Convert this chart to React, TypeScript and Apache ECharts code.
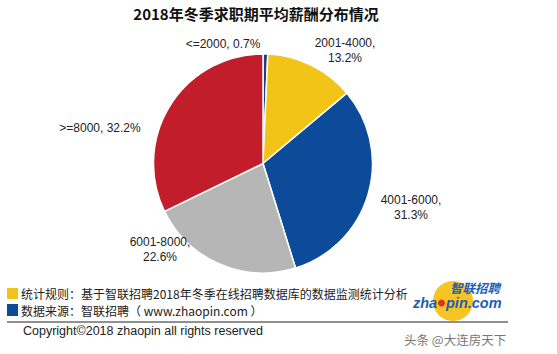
import React, { useEffect, useRef } from "react";
import * as echarts from "echarts";

const categories = ["<=2000", "2001-4000", "4001-6000", "6001-8000", ">=8000"];
const values = [0.7, 13.2, 31.3, 22.6, 32.2];
const sliceColors = ["#1D3F85", "#F2C418", "#0C4A9A", "#B6B6B6", "#C21D2A"];
const twoLine = [false, true, true, true, false];
const labelPos: [number, number][] = [
  [223, 44],
  [345, 50],
  [411, 207],
  [160, 249],
  [100, 128],
];

const titleText = "2018年冬季求职期平均薪酬分布情况";
const note1 = "统计规则：基于智联招聘2018年冬季在线招聘数据库的数据监测统计分析";
const note2 = "数据来源：智联招聘（ www.zhaopin.com ）";
const copyright = "Copyright©2018 zhaopin all rights reserved";
const watermark = "头条 @大连房天下";

const CJK = '"Noto Sans CJK SC", "Noto Sans", sans-serif';
const LAT = '"Liberation Sans", Arial, sans-serif';

export default function App() {
  const ref = useRef<HTMLDivElement>(null);
  useEffect(() => {
    document.body.style.margin = "0";
    const chart = echarts.init(ref.current!, null, { renderer: "svg" });
    chart.setOption({
      animation: false,
      backgroundColor: "#ffffff",
      series: [
        {
          type: "pie",
          center: [263, 163.5],
          radius: [0, 109.5],
          startAngle: 90,
          clockwise: true,
          itemStyle: { borderColor: "#ffffff", borderWidth: 1.5 },
          labelLine: { show: false },
          label: {
            show: true,
            position: "outside",
            color: "#222",
            fontFamily: LAT,
            fontSize: 12,
            lineHeight: 15,
            align: "center",
            formatter: (p: any) =>
              p.name + "," + (twoLine[p.dataIndex] ? "\n" : " ") + p.value + "%",
          },
          labelLayout: (params: any) => ({
            x: labelPos[params.dataIndex][0],
            y: labelPos[params.dataIndex][1],
            align: "center",
            verticalAlign: "middle",
          }),
          data: categories.map((c, i) => ({
            name: c,
            value: values[i],
            itemStyle: { color: sliceColors[i] },
          })),
        },
      ],
      graphic: [
        {
          type: "text",
          x: 256,
          y: 13,
          style: {
            text: titleText,
            fontFamily: CJK,
            fontSize: 15,
            fontWeight: "bold",
            fill: "#111",
            textAlign: "center",
            textVerticalAlign: "middle",
          },
        },
        { type: "rect", shape: { x: 7, y: 288, width: 11, height: 11 }, style: { fill: "#F2C418" } },
        { type: "rect", shape: { x: 7, y: 304, width: 11, height: 12 }, style: { fill: "#0C4A9A" } },
        {
          type: "text",
          x: 21,
          y: 293,
          style: { text: note1, fontFamily: CJK, fontSize: 12, fill: "#222", textVerticalAlign: "middle" },
        },
        {
          type: "text",
          x: 21,
          y: 310,
          style: { text: note2, fontFamily: CJK, fontSize: 12, fill: "#222", textVerticalAlign: "middle" },
        },
        {
          type: "line",
          shape: { x1: 7, y1: 322, x2: 508, y2: 322 },
          style: { stroke: "#222", lineWidth: 1 },
        },
        {
          type: "text",
          x: 23,
          y: 331,
          style: {
            text: copyright,
            fontFamily: LAT,
            fontSize: 12.5,
            fill: "#222",
            textVerticalAlign: "middle",
          },
        },
        {
          type: "text",
          x: 404,
          y: 339,
          style: { text: watermark, fontFamily: CJK, fontSize: 12.5, fill: "#777", textVerticalAlign: "middle" },
        },
        { type: "circle", shape: { cx: 453, cy: 301, r: 20 }, style: { fill: "#F7C521" } },
        { type: "circle", shape: { cx: 441.5, cy: 303, r: 3.5 }, style: { fill: "#E0301E" } },
        {
          type: "text",
          x: 450,
          y: 287,
          style: {
            text: "智联招聘",
            fontFamily: CJK,
            fontSize: 12.5,
            lineHeight: 12.5,
            fontWeight: "bold",
            fontStyle: "italic",
            fill: "#1E5FB5",
            textVerticalAlign: "middle",
          },
        },
        {
          type: "text",
          x: 413,
          y: 303,
          style: {
            text: "zha",
            fontFamily: LAT,
            fontSize: 14.5,
            lineHeight: 13,
            fontWeight: "bold",
            fontStyle: "italic",
            fill: "#1E5FB5",
            textVerticalAlign: "middle",
          },
        },
        {
          type: "text",
          x: 446,
          y: 303,
          style: {
            text: "pin.com",
            fontFamily: LAT,
            fontSize: 14.5,
            lineHeight: 13,
            fontWeight: "bold",
            fontStyle: "italic",
            fill: "#1E5FB5",
            textVerticalAlign: "middle",
          },
        },
      ],
    });
    return () => chart.dispose();
  }, []);
  return <div ref={ref} style={{ width: 557, height: 354 }} />;
}
